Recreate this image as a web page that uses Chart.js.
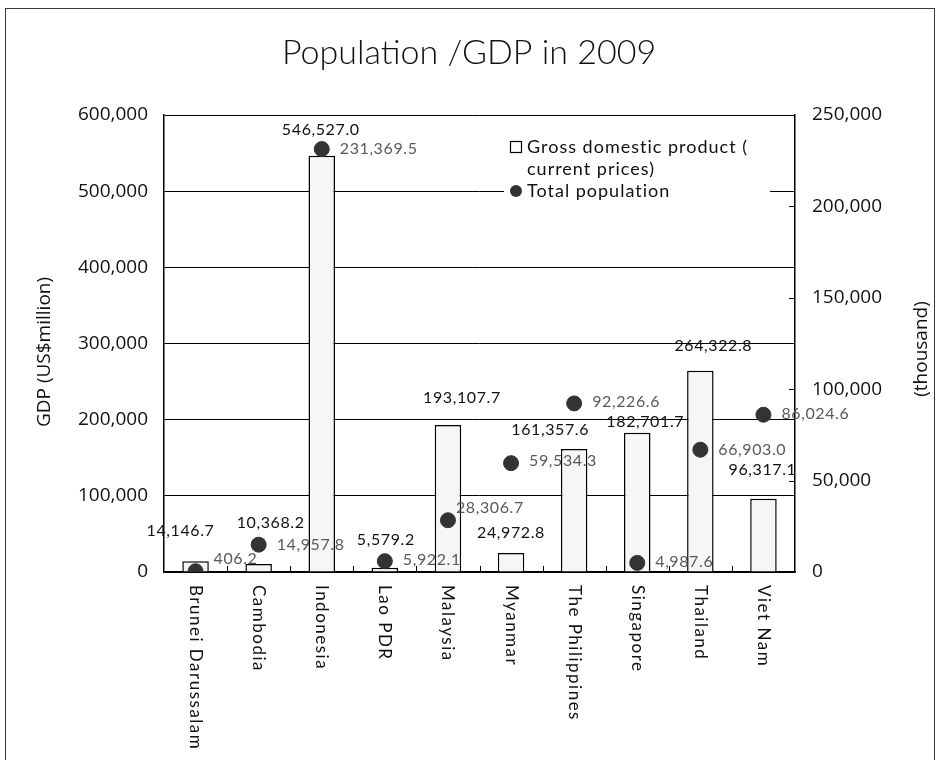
<!DOCTYPE html>
<html>
<head>
<meta charset="utf-8">
<script src="https://cdn.jsdelivr.net/npm/chart.js@4.4.1/dist/chart.umd.min.js"></script>
<style>
  html, body { margin: 0; padding: 0; background: #ffffff; }
  #wrap { width: 938px; height: 760px; position: relative; }
</style>
</head>
<body>
<div id="wrap"><canvas id="c" width="938" height="760"></canvas></div>
<script>
// ASEAN member states, 2009
const countries = ['Brunei Darussalam', 'Cambodia', 'Indonesia', 'Lao PDR', 'Malaysia',
  'Myanmar', 'The Philippines', 'Singapore', 'Thailand', 'Viet Nam'];

// Gross domestic product, current prices (US$ million)
const gdp = [14146.7, 10368.2, 546527.0, 5579.2, 193107.7,
  24972.8, 161357.6, 182701.7, 264322.8, 96317.1];

// Total population (thousand)
const population = [406.2, 14957.8, 231369.5, 5922.1, 28306.7,
  59534.3, 92226.6, 4987.6, 66903.0, 86024.6];

const gdpTicks = [0, 100000, 200000, 300000, 400000, 500000, 600000];
const popTicks = [0, 50000, 100000, 150000, 200000, 250000];

const chartTitle = 'Population /GDP in 2009';
const gdpAxisTitle = 'GDP (US$million)';
const popAxisTitle = '(thousand)';
const gdpLegend = ['Gross domestic product (', 'current prices)'];
const popLegend = 'Total population';

// label nudges in pixels [dx, dy] so neighbouring labels do not collide
const gdpLabelNudge = [[-15, -30], [12, -41], [-1, -26], [1, -28], [14, -27],
  [0, -20], [-24, -19], [8, -11], [13, -25], [-1, -29]];
const popLabelNudge = [[18, -12], [18, 0], [18, 0], [18, -1], [8, -12],
  [18, -2], [18, -2], [18, -1], [18, 0], [18, -1]];

const fmt = v => v.toLocaleString('en-US', { minimumFractionDigits: 1, maximumFractionDigits: 1 });
const fmtTick = v => v.toLocaleString('en-US');

const LABEL_FONT = '"Lato", "Open Sans", sans-serif';
const TICK_FONT = '"Open Sans", "Lato", sans-serif';

function spaced(ctx, px) {
  if ('letterSpacing' in ctx) ctx.letterSpacing = px + 'px';
}

const decor = {
  id: 'decor',
  afterDraw(chart) {
    const { ctx, chartArea: a, scales } = chart;
    const x = scales.x, y = scales.y, y2 = scales.y2;
    ctx.save();

    // outer frame
    ctx.strokeStyle = '#3a3a3a';
    ctx.lineWidth = 1;
    ctx.strokeRect(5.5, 8.5, 929, 770);

    // title
    ctx.fillStyle = '#111';
    ctx.font = '300 34px ' + LABEL_FONT;
    ctx.textAlign = 'center';
    ctx.textBaseline = 'middle';
    ctx.fillText(chartTitle, 469, 53);

    // axis titles
    ctx.font = '19px ' + TICK_FONT;
    ctx.fillStyle = '#111';
    ctx.save();
    ctx.translate(45, 352);
    ctx.rotate(-Math.PI / 2);
    ctx.fillText(gdpAxisTitle, 0, 0);
    ctx.restore();
    ctx.save();
    ctx.translate(922, 349);
    ctx.rotate(-Math.PI / 2);
    ctx.fillText(popAxisTitle, 0, 0);
    ctx.restore();

    // inner tick marks on the category axis and the right axis
    ctx.strokeStyle = '#000';
    ctx.lineWidth = 1;
    const step = (a.right - a.left) / countries.length;
    for (let i = 1; i < countries.length; i++) {
      const px = Math.round(a.left + step * i) + 0.5;
      ctx.beginPath();
      ctx.moveTo(px, a.bottom);
      ctx.lineTo(px, a.bottom - 6);
      ctx.stroke();
    }
    popTicks.forEach(t => {
      const py = Math.round(y2.getPixelForValue(t)) + 0.5;
      ctx.beginPath();
      ctx.moveTo(a.right, py);
      ctx.lineTo(a.right - 6, py);
      ctx.stroke();
    });

    // category labels, rotated to read downwards
    ctx.font = '17px ' + LABEL_FONT;
    spaced(ctx, 1.5);
    ctx.fillStyle = '#111';
    ctx.textAlign = 'left';
    ctx.textBaseline = 'middle';
    countries.forEach((c, i) => {
      ctx.save();
      ctx.translate(x.getPixelForValue(i), a.bottom + 13);
      ctx.rotate(Math.PI / 2);
      ctx.fillText(c, 0, 0);
      ctx.restore();
    });

    // value labels
    ctx.font = '16px ' + LABEL_FONT;
    spaced(ctx, 0.6);
    ctx.textAlign = 'center';
    ctx.fillStyle = '#111';
    gdp.forEach((v, i) => {
      const px = x.getPixelForValue(i) + gdpLabelNudge[i][0];
      const py = y.getPixelForValue(v) + gdpLabelNudge[i][1];
      ctx.fillText(fmt(v), px, py);
    });
    ctx.textAlign = 'left';
    ctx.fillStyle = '#595959';
    population.forEach((v, i) => {
      const px = x.getPixelForValue(i) + popLabelNudge[i][0];
      const py = y2.getPixelForValue(v) + popLabelNudge[i][1];
      ctx.fillText(fmt(v), px, py);
    });
    spaced(ctx, 0);

    // legend
    ctx.fillStyle = '#ffffff';
    ctx.fillRect(504, 128, 266, 74);
    ctx.fillRect(510.5, 141.5, 11, 11);
    ctx.strokeStyle = '#000';
    ctx.lineWidth = 1.2;
    ctx.strokeRect(510.5, 141.5, 11, 11);
    ctx.fillStyle = '#333';
    ctx.beginPath();
    ctx.arc(516, 191, 6, 0, Math.PI * 2);
    ctx.fill();
    ctx.fillStyle = '#111';
    ctx.font = '18px ' + LABEL_FONT;
    spaced(ctx, 1);
    ctx.textAlign = 'left';
    ctx.textBaseline = 'middle';
    ctx.fillText(gdpLegend[0], 527, 147);
    ctx.fillText(gdpLegend[1], 527, 169);
    ctx.fillText(popLegend, 527, 191);
    spaced(ctx, 0);

    ctx.restore();
  }
};

new Chart(document.getElementById('c'), {
  type: 'bar',
  data: {
    labels: countries,
    datasets: [
      {
        type: 'line',
        label: popLegend,
        data: population,
        yAxisID: 'y2',
        showLine: false,
        pointRadius: 7.5,
        pointHoverRadius: 7.5,
        pointBackgroundColor: '#333333',
        pointBorderColor: '#333333',
        order: 0
      },
      {
        type: 'bar',
        label: gdpLegend.join(' '),
        data: gdp,
        yAxisID: 'y',
        backgroundColor: '#f6f6f6',
        borderColor: '#000000',
        borderWidth: 1.5,
        barPercentage: 0.42,
        categoryPercentage: 1,
        order: 1
      }
    ]
  },
  options: {
    responsive: false,
    animation: false,
    devicePixelRatio: 1,
    layout: { padding: { top: 115, left: 0, right: 0, bottom: 0 } },
    plugins: {
      legend: { display: false },
      title: { display: false },
      tooltip: { enabled: false }
    },
    scales: {
      x: {
        offset: true,
        grid: { display: false },
        border: { display: true, color: '#000', width: 1.5 },
        ticks: { display: false },
        afterFit: s => { s.height = 188; }
      },
      y: {
        position: 'left',
        min: 0,
        max: 600000,
        afterBuildTicks: s => { s.ticks = gdpTicks.map(v => ({ value: v })); },
        grid: { color: '#000', lineWidth: 1, drawTicks: false },
        border: { display: true, color: '#000', width: 1.5 },
        ticks: {
          padding: 16,
          color: '#111',
          font: { family: TICK_FONT, size: 19 },
          callback: v => fmtTick(v)
        },
        afterFit: s => { s.width = 164; }
      },
      y2: {
        position: 'right',
        min: 0,
        max: 250000,
        afterBuildTicks: s => { s.ticks = popTicks.map(v => ({ value: v })); },
        grid: { display: false, drawTicks: false },
        border: { display: true, color: '#000', width: 1.5 },
        ticks: {
          padding: 17,
          color: '#111',
          font: { family: TICK_FONT, size: 19 },
          callback: v => fmtTick(v)
        },
        afterFit: s => { s.width = 143; }
      }
    }
  },
  plugins: [decor]
});
</script>
</body>
</html>
